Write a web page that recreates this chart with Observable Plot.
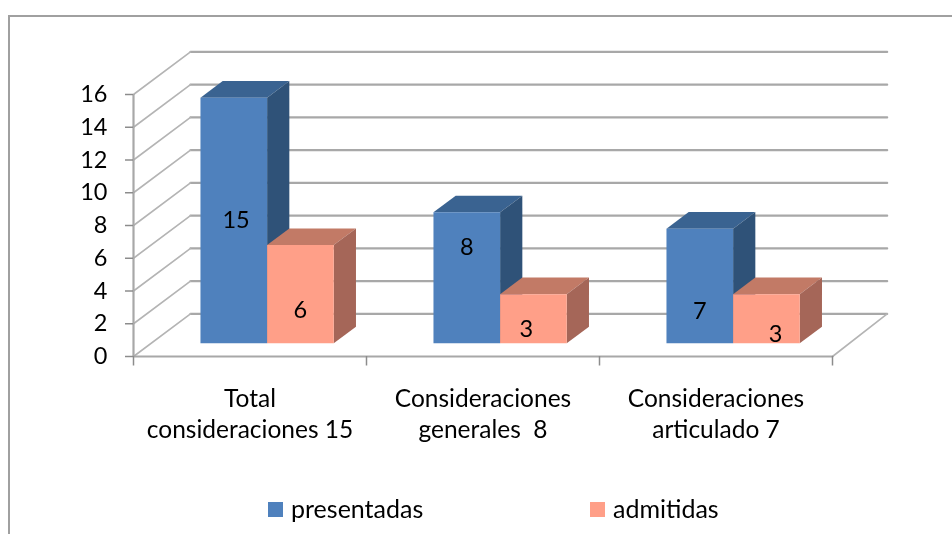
<!DOCTYPE html>
<html>
<head>
<meta charset="utf-8">
<script src="https://cdn.jsdelivr.net/npm/d3@7"></script>
<script src="https://cdn.jsdelivr.net/npm/@observablehq/plot@0.6"></script>
<style>
  html, body { margin: 0; padding: 0; background: #fff; }
  #page { position: relative; width: 952px; height: 534px; overflow: hidden; font-family: Lato, sans-serif; color: #000; }
  #page svg { position: absolute; left: 0; top: 0; filter: blur(0.45px); }
  #frame { position: absolute; left: 8px; top: 15px; right: -4px; bottom: -4px; border-left: 2px solid #a0a0a0; border-top: 2px solid #a0a0a0; }
  #legend { position: absolute; top: 493px; left: 0; height: 30px; width: 100%; font-size: 25px; filter: blur(0.3px); }
  .key { position: absolute; top: 0; line-height: 30px; white-space: nowrap; }
  .key i { position: absolute; left: 0; top: 9px; width: 15px; height: 15px; }
  .key span { position: absolute; left: 23px; top: 0; }
</style>
</head>
<body>
<div id="page"><div id="frame"></div></div>
<script>
const categories = ["Total\nconsideraciones 15", "Consideraciones\ngenerales  8", "Consideraciones\narticulado 7"];
const seriesNames = ["presentadas", "admitidas"];
const presentadas = [15, 8, 7];
const admitidas = [6, 3, 3];
const yTicks = [0, 2, 4, 6, 8, 10, 12, 14, 16];
const catEdges = [0, 1, 2, 3];
// placement of the hand-moved value labels, relative to the bar centre (x, value units)
const labelNudge = [[0.01, 0], [0, 1.86], [0, -1.53], [0, -0.98], [-0.03, -0.64], [0.039, -0.94]];

const blue = {front: "#4f81bd", top: "#3a6391", side: "#2f5278"};
const salmon = {front: "#ff9f88", top: "#c27a66", side: "#a56658"};

// oblique projection: z = 0 front of the floor, z = 1 back wall
const px = (x, z) => x + z * 0.2446;
const py = (y, z) => y + z * 2.6;
const pt = (id, x, y, z) => ({id, x: px(x, z), y: py(y, z)});

const zFront = 0.31, zBack = 0.70, barOffset = 0.2116, barWidth = 0.286;

const bars = [];
[presentadas, admitidas].forEach((vals, s) =>
  vals.forEach((v, c) => bars.push({s, c, v, x0: c + barOffset + s * barWidth, x1: c + barOffset + (s + 1) * barWidth}))
);
const faceFront = b => [pt(b.c + "f", b.x0, 0, zFront), pt(b.c + "f", b.x1, 0, zFront), pt(b.c + "f", b.x1, b.v, zFront), pt(b.c + "f", b.x0, b.v, zFront)];
const faceTop = b => [pt(b.c + "t", b.x0, b.v, zFront), pt(b.c + "t", b.x1, b.v, zFront), pt(b.c + "t", b.x1, b.v, zBack), pt(b.c + "t", b.x0, b.v, zBack)];
const faceSide = b => [pt(b.c + "s", b.x1, 0, zFront), pt(b.c + "s", b.x1, 0, zBack), pt(b.c + "s", b.x1, b.v, zBack), pt(b.c + "s", b.x1, b.v, zFront)];

const barMarks = [];
[blue, salmon].forEach((col, s) => {
  const mine = bars.filter(b => b.s === s);
  barMarks.push(Plot.line(mine.flatMap(faceTop), {x: "x", y: "y", z: "id", fill: col.top, stroke: "none"}));
  barMarks.push(Plot.line(mine.flatMap(faceSide), {x: "x", y: "y", z: "id", fill: col.side, stroke: "none"}));
  barMarks.push(Plot.line(mine.flatMap(faceFront), {x: "x", y: "y", z: "id", fill: col.front, stroke: "none"}));
});

const gridColor = "#a8a8a8";
const diagonals = yTicks.flatMap(v => [pt("d" + v, 0, v, 0), pt("d" + v, 0, v, 1)]);
const backLines = yTicks.flatMap(v => [pt("b" + v, 0, v, 1), pt("b" + v, 2.99, v, 1)]);
const floorEdge = [pt("e", 2.99, 0, 1), pt("e", 3, 0, 0)];
const frontEdge = [pt("g", 0, 0, 0), pt("g", 3, 0, 0)];

const chart = Plot.plot({
  width: 952,
  height: 492,
  marginLeft: 133,
  marginRight: 120,
  marginTop: 40,
  marginBottom: 40,
  style: {background: "transparent", fontFamily: "Lato, sans-serif", overflow: "visible"},
  x: {domain: [0, 3], range: [133, 832], axis: null},
  y: {domain: [0, 16], range: [356, 94], axis: null},
  marks: [
    Plot.line(backLines, {x: "x", y: "y", z: "id", stroke: gridColor, strokeWidth: 2.2}),
    Plot.line(diagonals, {x: "x", y: "y", z: "id", stroke: "#b4b4b4", strokeWidth: 1.6}),
    Plot.line(floorEdge, {x: "x", y: "y", z: "id", stroke: "#b4b4b4", strokeWidth: 1.6}),
    Plot.line(frontEdge, {x: "x", y: "y", z: "id", stroke: gridColor, strokeWidth: 2.2}),
    Plot.ruleX([0], {y1: 0, y2: 16, stroke: gridColor, strokeWidth: 2.2}),
    Plot.ruleX(catEdges, {y1: 0, y2: -0.58, stroke: "#8c8c8c", strokeWidth: 1.5}),
    Plot.axisY({
      ticks: yTicks,
      tickSize: 8,
      tickPadding: 18,
      stroke: "#8c8c8c",
      strokeWidth: 1.5,
      strokeOpacity: 1,
      fill: "#000",
      fontSize: 23.5,
      label: null
    }),
    ...barMarks,
    Plot.text(bars, {
      x: (b, i) => px((b.x0 + b.x1) / 2 + labelNudge[i][0], zFront),
      y: (b, i) => py(b.v / 2 + labelNudge[i][1], zFront),
      text: "v",
      fontSize: 23.5,
      fill: "#000"
    }),
    Plot.text(categories, {
      x: (d, i) => i + 0.5,
      y: () => -3.42,
      text: d => d,
      fontSize: 24.5,
      lineHeight: 1.27,
      fill: "#000"
    })
  ]
});
const page = document.getElementById("page");
page.insertBefore(chart, page.firstChild);

const legend = document.createElement("div");
legend.id = "legend";
[[seriesNames[0], blue.front, 268], [seriesNames[1], salmon.front, 590]].forEach(([name, color, left]) => {
  const k = document.createElement("div");
  k.className = "key";
  k.style.left = left + "px";
  const i = document.createElement("i");
  i.style.background = color;
  const s = document.createElement("span");
  s.textContent = name;
  k.append(i, s);
  legend.append(k);
});
page.append(legend);
</script>
</body>
</html>
